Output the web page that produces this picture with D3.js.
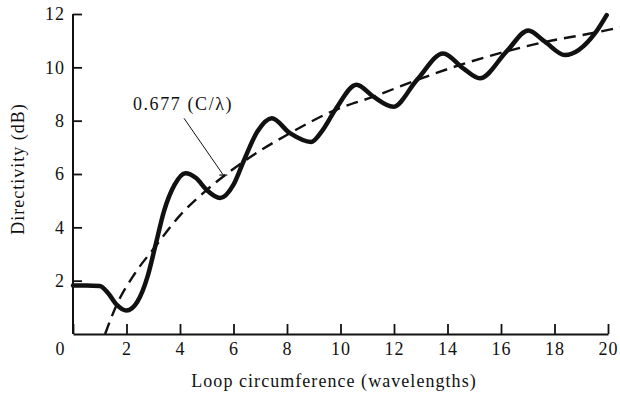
<!DOCTYPE html>
<html><head><meta charset="utf-8">
<script src="https://cdn.jsdelivr.net/npm/d3@7"></script>
<style>
html,body{margin:0;padding:0;background:#fff;}
svg{display:block;}
text{font-family:"Liberation Serif","DejaVu Serif",serif;fill:#111;}
</style></head>
<body><svg id="c" width="620" height="396"></svg>
<script>
// Data
const xTicks = [0,2,4,6,8,10,12,14,16,18,20];
const yTicks = [2,4,6,8,10,12];
const measuredC = [0,0.5,1.0,1.3,1.63,2.0,2.4,2.8,3.07,3.4,3.8,4.2,4.6,5.0,5.5,6.0,6.37,6.9,7.43,8.11,8.9,9.3,9.8,10.6,11.23,11.97,12.85,13.84,14.59,15.21,16.21,17.02,17.64,18.39,19.51,19.95];
const measuredD = [1.82,1.82,1.8,1.55,1.1,0.88,1.2,2.2,3.27,4.6,5.6,6.03,5.85,5.4,5.1,5.6,6.46,7.6,8.09,7.53,7.2,7.6,8.4,9.35,8.9,8.52,9.52,10.52,9.96,9.59,10.6,11.38,10.96,10.46,11.27,11.96];
const approxC = [1.2,1.63,2.3,3.07,4.0,5.0,6.37,8.11,9.8,11.23,12.85,14.5,16.21,17.64,19.51,20.45];
const approxD = [0,1.09,2.25,3.27,4.45,5.4,6.46,7.53,8.4,8.9,9.52,10.1,10.6,10.95,11.3,11.5];
const annotationText = "0.677 (C/λ)";
const annotationLabel = {c:4.04, d:8.4};
const annotationLeader = [{c:4.15,d:8.09},{c:5.62,d:5.96}];
const xLabel = "Loop circumference (wavelengths)";
const yLabel = "Directivity (dB)";

const svg = d3.select("#c");
const x = d3.scaleLinear().domain([0,20]).range([73,608]);
const y = d3.scaleLinear().domain([0,12]).range([334,14]);

// axes
const xa = svg.append("g").attr("transform","translate(0,334)")
  .call(d3.axisBottom(x).tickValues(xTicks).tickSizeInner(-10).tickSizeOuter(0).tickPadding(8).tickFormat(d3.format("d")));
const ya = svg.append("g").attr("transform","translate(73,0)")
  .call(d3.axisLeft(y).tickValues(yTicks).tickSizeInner(-9).tickSizeOuter(0).tickPadding(8).tickFormat(d3.format("d")));
[xa,ya].forEach(g=>{
  g.select(".domain").attr("stroke","#111").attr("stroke-width",2);
  g.selectAll(".tick line").attr("stroke","#111").attr("stroke-width",1.8);
  g.selectAll(".tick text").attr("font-size",18).attr("font-family","Liberation Serif").attr("fill","#111").attr("letter-spacing","1px");
});
xa.selectAll(".tick").filter(d=>d===0).select("text").attr("x",-13);
ya.select(".domain").attr("d",`M0,${y(0)}V${y(12)}`);

// dashed approximation
const dashed = approxC.map((c,i)=>[c,approxD[i]]);
svg.append("path").datum(dashed)
  .attr("d",d3.line().x(d=>x(d[0])).y(d=>y(d[1])).curve(d3.curveMonotoneX))
  .attr("fill","none").attr("stroke","#111").attr("stroke-width",2.4)
  .attr("stroke-dasharray","12,7");

// measured curve
const solid = measuredC.map((c,i)=>[c,measuredD[i]]);
svg.append("path").datum(solid)
  .attr("d",d3.line().x(d=>x(d[0])).y(d=>y(d[1])).curve(d3.curveMonotoneX))
  .attr("fill","none").attr("stroke","#111").attr("stroke-width",4.5)
  .attr("stroke-linejoin","round").attr("stroke-linecap","round");

// annotation
svg.append("text").attr("x",x(annotationLabel.c)+2).attr("y",y(annotationLabel.d))
  .attr("text-anchor","middle").attr("font-size",18).attr("letter-spacing","1.6px").text(annotationText);
const [a0,a1] = annotationLeader;
svg.append("line").attr("x1",x(a0.c)).attr("y1",y(a0.d)).attr("x2",x(a1.c)).attr("y2",y(a1.d))
  .attr("stroke","#111").attr("stroke-width",1);
svg.append("line").attr("x1",x(a1.c)-4).attr("y1",y(a1.d)).attr("x2",x(a1.c)+4).attr("y2",y(a1.d))
  .attr("stroke","#111").attr("stroke-width",1.2);

// axis titles
svg.append("text").attr("x",334).attr("y",387).attr("text-anchor","middle")
  .attr("font-size",18).attr("letter-spacing","1.05px").text(xLabel);
svg.append("text").attr("transform","translate(24,169) rotate(-90)").attr("text-anchor","middle")
  .attr("font-size",18).attr("letter-spacing","1px").text(yLabel);
</script></body></html>
